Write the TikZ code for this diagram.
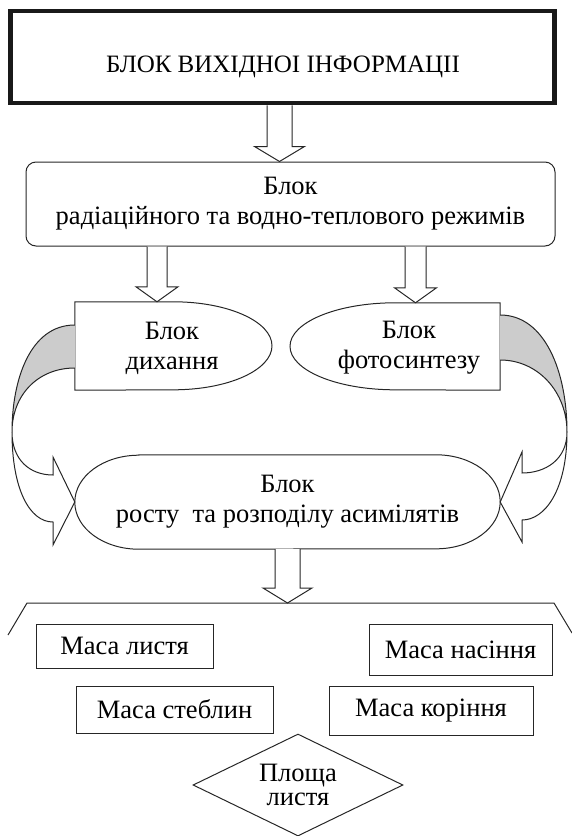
\documentclass[tikz,border=0pt]{standalone}
\usepackage{fontspec}
\setmainfont{Liberation Serif}
\newfontfamily\ukrfont{Liberation Serif}
\usetikzlibrary{calc,shapes.geometric}

\newcommand{\blkarrow}[4]{%
  \path (#3) coordinate (s) (s |- #4) coordinate (t);
  \draw[blk] ($(s)+(-#1,0)$) -- ($(t)+(-#1,-15)$) -- ($(t)+(-#2,-15)$) -- (t)
        -- ($(t)+(#2,-15)$) -- ($(t)+(#1,-15)$) -- ($(s)+(#1,0)$);
}

\begin{document}
\begin{tikzpicture}[x=1pt,y=-1pt,
    txt/.style={font=\ukrfont\fontsize{26.5}{30}\selectfont, align=center, inner sep=0pt},
    ln/.style={draw=black!85, line width=1pt},
    blk/.style={ln, fill=white, line join=miter},
    mbox/.style={txt, ln, rectangle},
    back/.style={fill=black!20}]
  \useasboundingbox (0,0) rectangle (572,836);
  \path (282.5,57) node (top) [draw=black!90, line width=4.5pt, minimum width=544pt, minimum height=92pt] {}
        (283,67) node (toptxt) [txt, font=\ukrfont\fontsize{25}{30}\selectfont] {БЛОК ВИХІДНОІ ІНФОРМАЦІІ}
        (290.5,204) node (rad) [txt, ln, rounded corners=10pt, minimum width=529pt, minimum height=84pt] {Блок\\радіаційного та водно-теплового режимів}
        (173.5,346) node (dyhbox) [minimum width=197pt, minimum height=88pt] {}
        (172,348) node (dyh) [txt] {Блок\\дихання}
        (395,346.5) node (fotbox) [minimum width=210pt, minimum height=87pt] {}
        (409,348) node (fot) [txt] {Блок\\фотосинтезу}
        (287.5,502) node (grw) [txt, minimum width=425pt, minimum height=94pt] {Блок\\росту~ та розподілу асимілятів}
        (124.5,646) node (lst) [mbox, minimum width=177pt, minimum height=44pt] {Маса листя}
        (174.5,709.5) node (stb) [mbox, minimum width=197pt, minimum height=47pt] {Маса стеблин}
        (460.5,649.5) node (nas) [mbox, minimum width=183pt, minimum height=51pt] {Маса насіння}
        (431,710.5) node (kor) [mbox, minimum width=204pt, minimum height=49pt] {Маса коріння}
        (298,785) node (plo) [txt, ln, diamond, aspect=2, minimum width=210pt, minimum height=102pt,
                              font=\ukrfont\fontsize{26.5}{24.5}\selectfont] {Площа\\листя};
  \coordinate (bl) at (27,603);
  \coordinate (br) at (554,603);
  \coordinate (la) at ($(dyhbox.west)+(0,-21)$);
  \coordinate (lb) at ($(dyhbox.west)+(0,22)$);
  \coordinate (ra) at ($(fotbox.east)+(0,-31.5)$);
  \coordinate (rb) at ($(fotbox.east)+(0,13.5)$);

  \draw[ln] (dyhbox.north west) -- (dyhbox.north) arc[start angle=90, end angle=-90, x radius=98.5pt, y radius=44pt] -- (dyhbox.south west) -- cycle;
  \draw[ln] (fotbox.north east) -- (fotbox.north) arc[start angle=90, end angle=270, x radius=105pt, y radius=43.5pt] -- (fotbox.south east) -- cycle;
  \draw[ln] ($(grw.north west)+(64,0)$) -- ($(grw.north east)+(-64,0)$) arc[start angle=90, end angle=-90, x radius=64pt, y radius=47pt]
            -- ($(grw.south west)+(64,0)$) arc[start angle=270, end angle=90, x radius=64pt, y radius=47pt] -- cycle;

  \fill[back] (la) .. controls (30,325) and (12,380) .. (12,432) .. controls (12,395) and (38,368) .. (lb) -- cycle;
  \draw[ln, line join=miter] (la) .. controls (30,325) and (12,380) .. (12,432) .. controls (12,490) and (30,522) .. (53,522)
        -- (53,545) -- (grw.west) -- (53,457) -- (53,475) .. controls (30,475) and (12,460) .. (12,432)
        .. controls (12,395) and (38,368) .. (lb);
  \fill[back] (ra) .. controls (545,315) and (567,372) .. (567,432) .. controls (567,392) and (538,360) .. (rb) -- cycle;
  \draw[ln, line join=miter] (ra) .. controls (545,315) and (567,372) .. (567,432) .. controls (567,490) and (545,520) .. (522,520)
        -- (522,542) -- (grw.east) -- (522,452) -- (522,473) .. controls (545,473) and (567,460) .. (567,432)
        .. controls (567,392) and (538,360) .. (rb);

  \blkarrow{12.5}{25}{$(top.south)+(-3,0)$}{rad.north}
  \blkarrow{10}{21}{$(rad.south)+(-133.5,0)$}{dyhbox.north}
  \blkarrow{10.5}{21}{$(rad.south)+(125,0)$}{fotbox.north}
  \blkarrow{12.5}{24.5}{grw.south}{bl}
  \draw[ln] (8,635) -- (bl) -- (br) -- (572,633);
\end{tikzpicture}
\end{document}
